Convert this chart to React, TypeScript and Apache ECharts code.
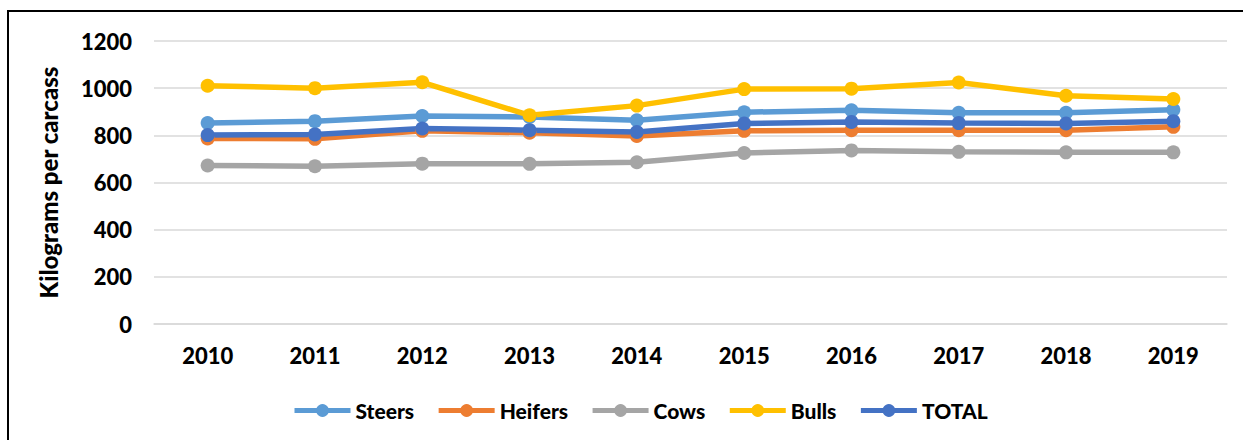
import React, { useEffect, useRef } from "react";
import * as echarts from "echarts";

const years = ["2010", "2011", "2012", "2013", "2014", "2015", "2016", "2017", "2018", "2019"];
const steers = [852, 860, 882, 878, 864, 898, 906, 896, 896, 908];
const heifers = [787, 785, 819, 811, 797, 819, 822, 822, 822, 836];
const cows = [672, 669, 680, 679, 686, 725, 736, 730, 728, 728];
const bulls = [1010, 1000, 1025, 885, 926, 996, 998, 1024, 968, 954];
const total = [801, 804, 829, 822, 814, 850, 857, 852, 850, 860];
const yTicks = { min: 0, max: 1200, interval: 200 };

const FONT = "Lato";
const WEIGHT = 900;

export default function App() {
  const ref = useRef<HTMLDivElement>(null);
  useEffect(() => {
    if (!ref.current) return;
    const chart = echarts.init(ref.current, undefined, { renderer: "svg" });
    const mk = (name: string, data: number[], color: string) => ({
      name,
      type: "line",
      data,
      symbol: "circle",
      symbolSize: 14,
      itemStyle: { color },
      lineStyle: { color, width: 5.5 },
    });
    chart.setOption({
      animation: false,
      backgroundColor: "#fff",
      textStyle: { fontFamily: FONT },
      grid: { left: 154, right: 16, top: 41, bottom: 116, containLabel: false },
      graphic: [
        {
          type: "rect",
          shape: { x: 8, y: 11, width: 1300, height: 500 },
          style: { fill: "none", stroke: "#000", lineWidth: 2 },
          silent: true,
        },
      ],
      legend: {
        left: 292,
        top: 400,
        padding: 0,
        itemWidth: 56,
        itemHeight: 16,
        itemGap: 22,
        lineStyle: { width: 5 },
        textStyle: { fontFamily: FONT, fontWeight: WEIGHT, fontSize: 21, color: "#000" },
        data: ["Steers", "Heifers", "Cows", "Bulls", "TOTAL"],
      },
      xAxis: {
        type: "category",
        data: years,
        boundaryGap: true,
        axisLine: { show: true, lineStyle: { color: "#D9D9D9", width: 1.5 } },
        axisTick: { show: false },
        axisLabel: { margin: 20, fontFamily: FONT, fontWeight: WEIGHT, fontSize: 22, color: "#000" },
      },
      yAxis: {
        type: "value",
        min: yTicks.min,
        max: yTicks.max,
        interval: yTicks.interval,
        name: "Kilograms per carcass",
        nameLocation: "middle",
        nameGap: 94,
        nameTextStyle: { fontFamily: FONT, fontWeight: WEIGHT, fontSize: 24, color: "#000" },
        axisLine: { show: false },
        axisTick: { show: false },
        axisLabel: {
          margin: 22,
          fontFamily: FONT,
          fontWeight: WEIGHT,
          fontSize: 22,
          color: "#000",
          formatter: (v: number) => String(v),
        },
        splitLine: { lineStyle: { color: "#D9D9D9", width: 1.5 } },
      },
      series: [
        mk("Steers", steers, "#5B9BD5"),
        mk("Heifers", heifers, "#ED7D31"),
        mk("Cows", cows, "#A5A5A5"),
        mk("Bulls", bulls, "#FFC000"),
        mk("TOTAL", total, "#4472C4"),
      ],
    });
    return () => chart.dispose();
  }, []);
  return (
    <div
      ref={ref}
      style={{ position: "fixed", left: 0, top: 0, width: 1243, height: 440, background: "#fff" }}
    />
  );
}
